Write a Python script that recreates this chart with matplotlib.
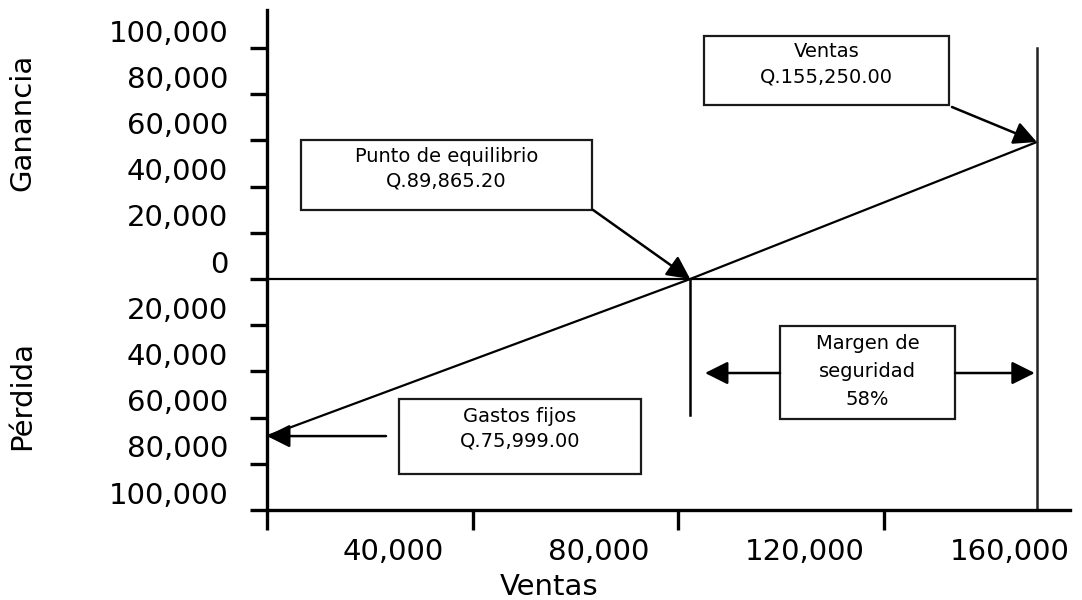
import matplotlib.pyplot as plt
from matplotlib.patches import Rectangle

# Values as drawn on the break-even chart
ventas_ticks = [0, 40000, 80000, 120000]
ventas_labels = ["40,000", "80,000", "120,000", "160,000"]
monto_ticks = [-100000, -80000, -60000, -40000, -20000, 0, 20000, 40000, 60000, 80000, 100000]
monto_labels = [f"{abs(v):,}" for v in monto_ticks]

# result line: fixed costs -> break-even -> sales
linea_x = [0, 82300, 149700]
linea_y = [-68000, 0, 59300]

equilibrio_x = 82300
equilibrio_fin_y = -58900
ventas_x = 149700
costo_fijo_y = -68000
margen_y = -40700

textos = {
    "equilibrio": "Punto de equilibrio\nQ.89,865.20",
    "ventas": "Ventas\nQ.155,250.00",
    "gastos": "Gastos fijos\nQ.75,999.00",
    "margen": "Margen de\nseguridad\n58%",
}

fig = plt.figure(figsize=(10.82, 6), dpi=100)
ax = fig.add_axes([267 / 1082, 90 / 600, 803 / 1082, 500 / 600])
ax.set_xlim(0, 156150)
ax.set_ylim(-100000, 116450)

for s in ["top", "right"]:
    ax.spines[s].set_visible(False)
for s in ["left", "bottom"]:
    ax.spines[s].set_linewidth(2.4)

# tick marks at the values, labels slightly shifted as in the original
ax.set_xticks(ventas_ticks)
ax.set_xticklabels([])
ax.set_xticks([v + 24500 for v in ventas_ticks], minor=True)
ax.set_xticklabels(ventas_labels, minor=True)
ax.set_yticks(monto_ticks)
ax.set_yticklabels([])
ax.set_yticks([v + 7500 for v in monto_ticks], minor=True)
ax.set_yticklabels(monto_labels, minor=True)

ax.tick_params(axis="x", which="major", direction="out", length=14.5, width=2.4)
ax.tick_params(axis="y", which="major", direction="out", length=12.5, width=2.4)
ax.tick_params(axis="x", which="minor", length=0, labelsize=21, pad=20)
ax.tick_params(axis="y", which="minor", length=0, labelsize=21, pad=28)

# lines
ax.plot(linea_x, linea_y, color="black", lw=1.6)
ax.plot([0, ventas_x], [0, 0], color="black", lw=1.6)
ax.plot([equilibrio_x, equilibrio_x], [0, equilibrio_fin_y], color="black", lw=1.8)
ax.plot([ventas_x, ventas_x], [-100000, 100000], color="#222222", lw=1.8)

flecha = dict(arrowstyle="-|>,head_length=0.4,head_width=0.2", mutation_scale=35,
              lw=1.8, color="black", shrinkA=0, shrinkB=0)

def caja(x0, x1, y0, y1, texto, ls=1.4, sube=0.09):
    ax.add_patch(Rectangle((x0, y0), x1 - x0, y1 - y0, fill=False, ec="#1a1a1a", lw=1.6))
    ax.text((x0 + x1) / 2, (y0 + y1) / 2 + (y1 - y0) * sube, texto, ha="center", va="center",
            fontsize=14, linespacing=ls)

caja(6610, 63200, 29900, 60170, textos["equilibrio"])
ax.annotate("", xy=(equilibrio_x, 0), xytext=(63400, 29900), arrowprops=flecha)

caja(84980, 132620, 75300, 105200, textos["ventas"])
ax.annotate("", xy=(ventas_x, linea_y[-1]), xytext=(133200, 74460), arrowprops=flecha)

caja(25670, 72730, -84400, -51950, textos["gastos"], sube=0.1)
ax.annotate("", xy=(0, costo_fijo_y), xytext=(23140, costo_fijo_y), arrowprops=flecha)

caja(99760, 133800, -60600, -20350, textos["margen"], ls=1.6, sube=0.01)
ax.annotate("", xy=(85170, margen_y), xytext=(99760, margen_y), arrowprops=flecha)
ax.annotate("", xy=(149300, margen_y), xytext=(133800, margen_y), arrowprops=flecha)

# axis titles
fig.text(549 / 1082, 13 / 600, "Ventas", ha="center", va="center", fontsize=21)
fig.text(22 / 1082, 1 - 122 / 600, "Ganancia", rotation=90, ha="center", va="center", fontsize=21)
fig.text(22 / 1082, 1 - 395 / 600, "Pérdida", rotation=90, ha="center", va="center", fontsize=21)

fig.savefig("out.png", dpi=100)
